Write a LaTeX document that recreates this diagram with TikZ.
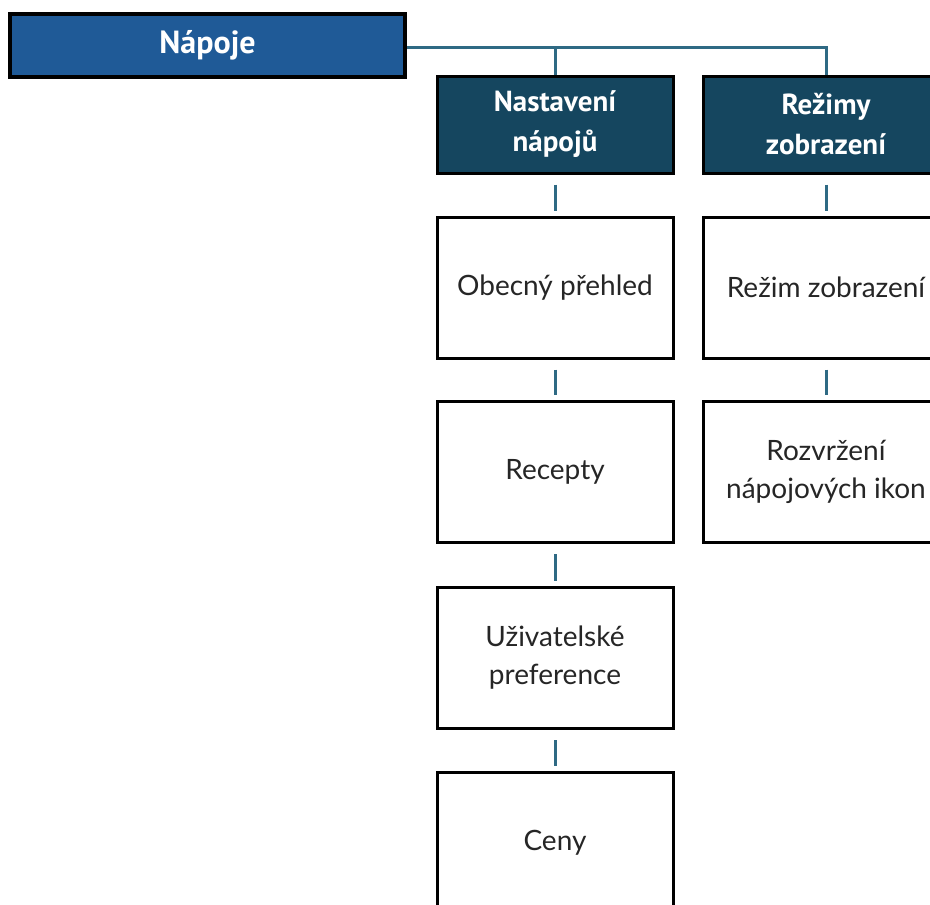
\documentclass[tikz,border=0pt]{standalone}
\usepackage{fontspec}
\setmainfont{Lato}
\newfontfamily\headfont{PT Sans}
\definecolor{topblue}{HTML}{1F5A97}
\definecolor{headteal}{HTML}{15465F}
\definecolor{linkteal}{HTML}{2F6A84}
\begin{document}
\begin{tikzpicture}[x=1pt, y=-1pt,
		topbox/.style={draw=black, line width=3.5pt, fill=topblue, text=white, font=\headfont\bfseries\fontsize{32}{36}\selectfont, minimum width=395, minimum height=63, inner sep=0pt},
		headbox/.style={draw=black, line width=3pt, fill=headteal, text=white, align=center, font=\headfont\bfseries\fontsize{29}{40}\selectfont, minimum width=236, minimum height=97, inner sep=0pt},
		itembox/.style={draw=black, line width=3pt, fill=white, text=black!85, align=center, font=\fontsize{28}{38}\selectfont, minimum width=236, minimum height=141, inner sep=0pt},
		link/.style={draw=linkteal, line width=3pt},
		tick/.style={draw=linkteal, line width=3pt, shorten <=10pt, shorten >=5pt}]
			\clip (0,0) rectangle (930,905);
			\node[topbox] (napoje) at (207.5, 45.5) {Nápoje};
			\node[headbox] (nast) at (555, 124.5) {Nastavení\\nápojů};
			\node[headbox, minimum width=246] (rezimy) at (826, 124.5) {Režimy\\zobrazení};
			\node[itembox] (obecny) at (555, 287.5) {Obecný přehled};
			\node[itembox] (recepty) at (555, 472) {Recepty};
			\node[itembox] (uziv) at (555, 658) {Uživatelské\\preference};
			\node[itembox] (ceny) at (555, 842.5) {Ceny};
			\node[itembox, minimum width=246] (rezim) at (826, 287.5) {Režim zobrazení};
			\node[itembox, minimum width=246] (rozvrz) at (826, 472) {Rozvržení\\nápojových ikon};
			\coordinate (spoj) at (826, 47);
			\draw[link] (napoje.east |- spoj) -- (spoj) -- (rezimy.north);
			\draw[link] (nast.north |- spoj) -- (nast.north);
			\draw[tick] (nast.south) -- (obecny.north);
			\draw[tick] (obecny.south) -- (recepty.north);
			\draw[tick] (recepty.south) -- (uziv.north);
			\draw[tick] (uziv.south) -- (ceny.north);
			\draw[tick] (rezimy.south) -- (rezim.north);
			\draw[tick] (rezim.south) -- (rozvrz.north);
		\end{tikzpicture}
\end{document}
